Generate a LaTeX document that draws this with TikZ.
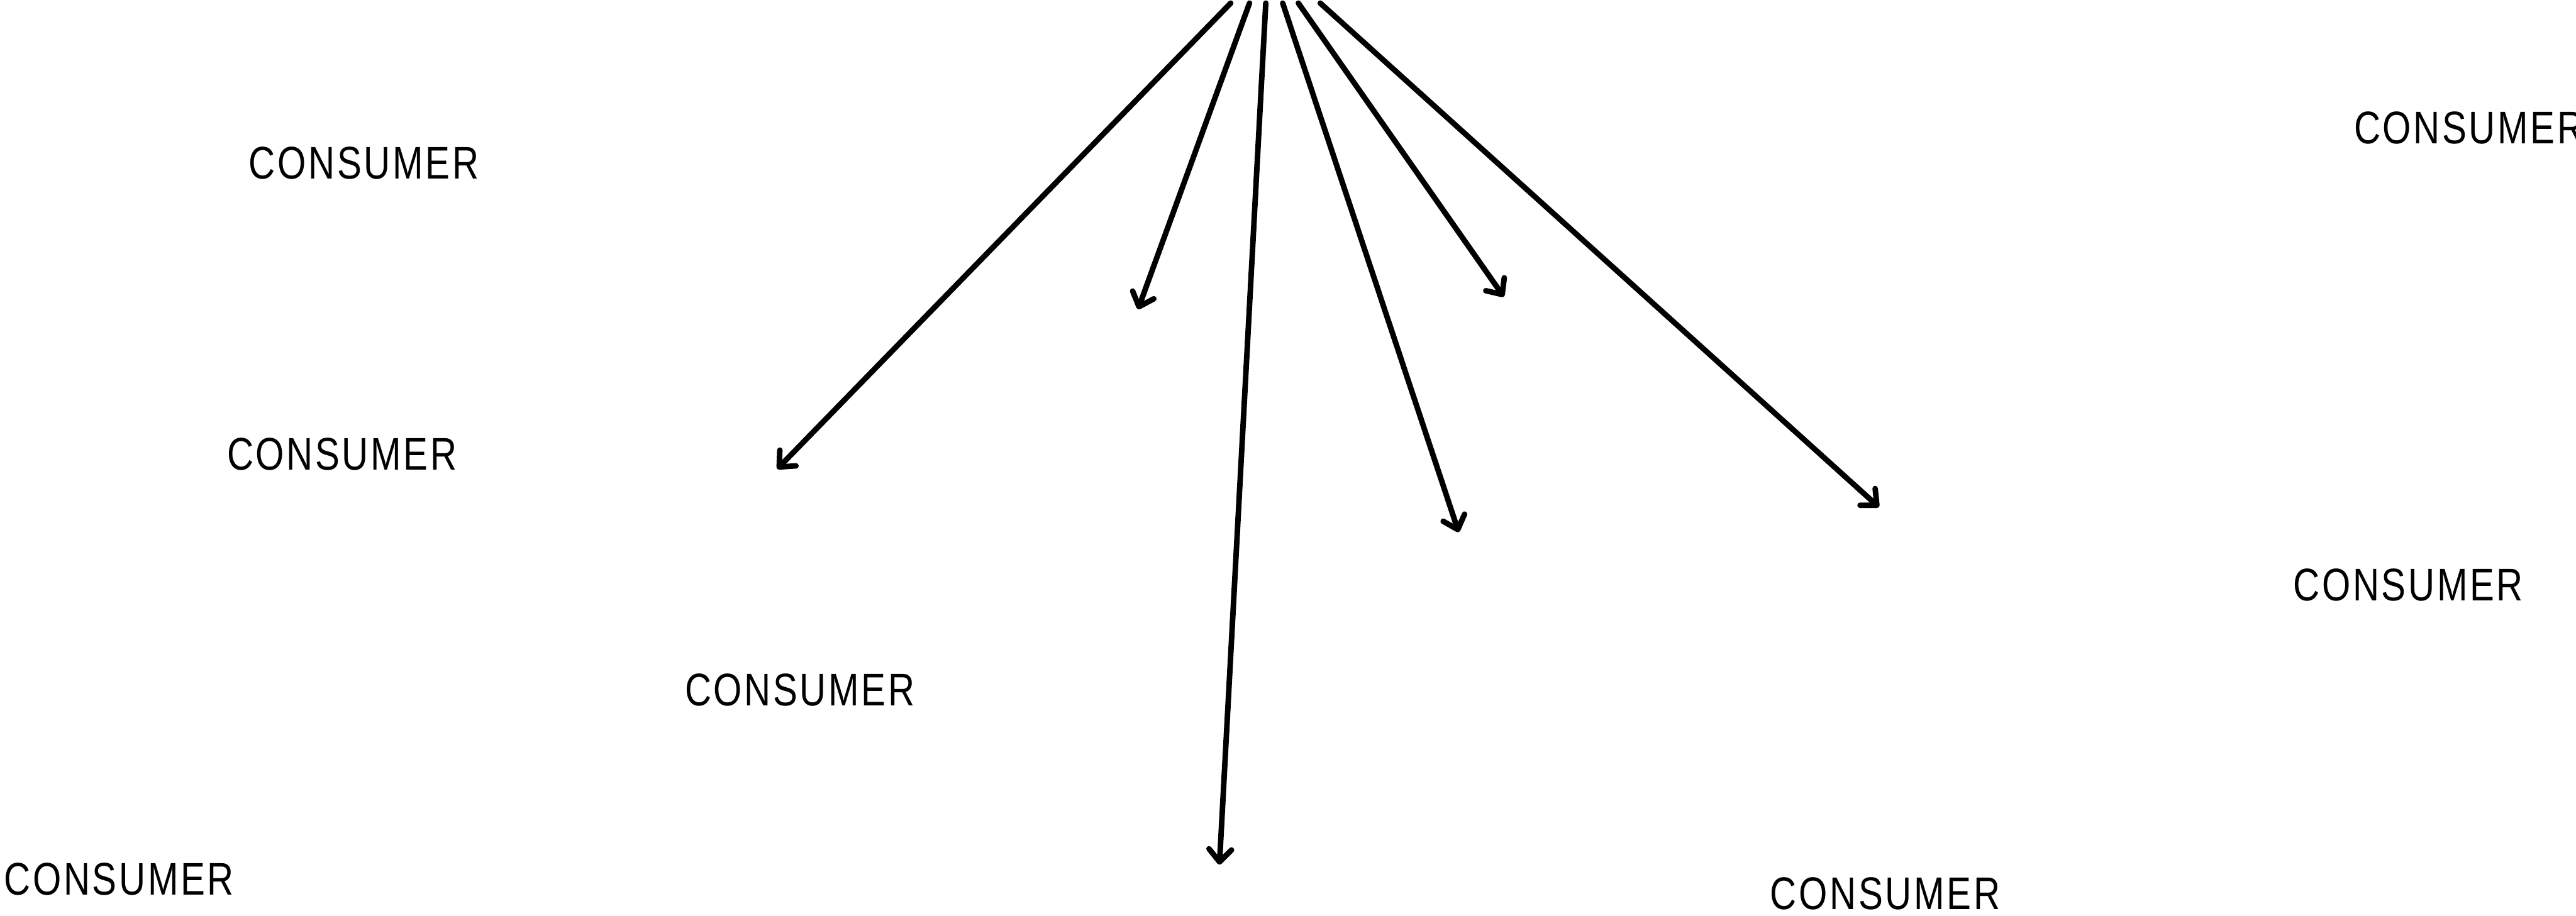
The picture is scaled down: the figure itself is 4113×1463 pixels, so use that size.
\documentclass[tikz,border=0pt]{standalone}
\usepackage{fontspec}
\setmainfont{Liberation Sans}
\newfontfamily\lblfont[FakeStretch=0.8,LetterSpace=5]{Liberation Sans}
\usetikzlibrary{arrows.meta}
\begin{document}
\begin{tikzpicture}[x=0.01cm,y=-0.01cm,
  lbl/.style={inner sep=0pt,anchor=center,font=\lblfont\fontsize{20.8pt}{23pt}\selectfont},
  link/.style={line width=0.088cm,line cap=round,line join=round,
    -{Straight Barb[length=0.2cm,width=0.36cm,round]}}]
\useasboundingbox (0,0) rectangle (4113,1463);
% labels
\node[lbl] (c1) at (581,260) {CONSUMER};
\node[lbl] (c2) at (3942,204) {CONSUMER};
\node[lbl] (c3) at (546,725) {CONSUMER};
\node[lbl] (c4) at (3845,934) {CONSUMER};
\node[lbl] (c5) at (1277,1102) {CONSUMER};
\node[lbl] (c6) at (190,1404) {CONSUMER};
\node[lbl] (c7) at (3010,1427) {CONSUMER};
% start points
\coordinate (s1) at (1965,5);
\coordinate (s2) at (1995,5);
\coordinate (s3) at (2021,5);
\coordinate (s4) at (2048,5);
\coordinate (s5) at (2073,5);
\coordinate (s6) at (2108,5);
% end points
\coordinate (e1) at (1241,749);
\coordinate (e2) at (1817,494);
\coordinate (e3) at (1947,1381);
\coordinate (e4) at (2329,850);
\coordinate (e5) at (2401,474);
\coordinate (e6) at (3000,810);
\draw[link] (s1) -- (e1);
\draw[link] (s2) -- (e2);
\draw[link] (s3) -- (e3);
\draw[link] (s4) -- (e4);
\draw[link] (s5) -- (e5);
\draw[link] (s6) -- (e6);
\end{tikzpicture}
\end{document}
